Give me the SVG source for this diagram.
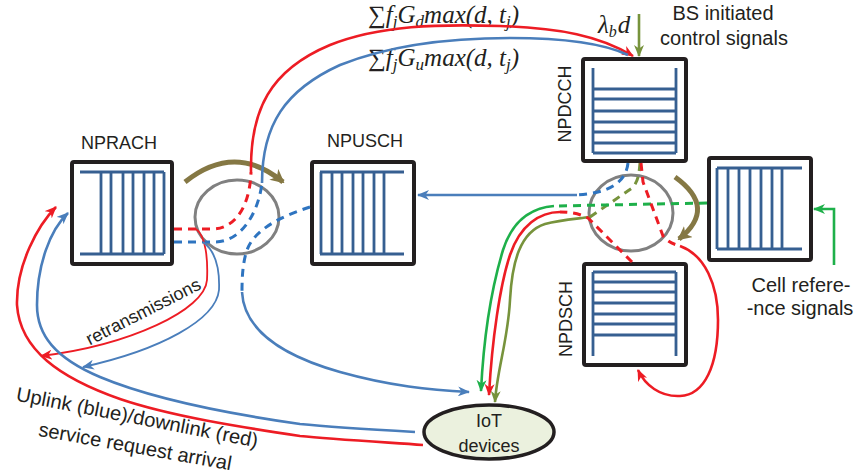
<svg xmlns="http://www.w3.org/2000/svg" width="857" height="475" viewBox="0 0 857 475">
<style>
.box{fill:#fff;stroke:#231f20;stroke-width:4}
.q{fill:none;stroke:#365f91;stroke-width:2.8}
.sw{fill:none;stroke:#808080;stroke-width:3}
.lbl{font-family:"Liberation Sans",Arial,sans-serif;font-size:18px;fill:#231f20}
.big{font-size:20px}
.math{font-family:"Liberation Serif","Times New Roman",serif;font-style:italic;font-size:25px;fill:#231f20}
.c{fill:none;stroke-width:2.6}
.t{fill:none;stroke-width:1.8}
.d{fill:none;stroke-width:3;stroke-dasharray:8 6}
.r{stroke:#ed1c24}.b{stroke:#4a7ebb}.bd{stroke:#2e74c0}.g{stroke:#1eb04a}.o{stroke:#77933c}.br{stroke:#857844}
</style>
<defs>
<marker id="ar" markerUnits="userSpaceOnUse" markerWidth="12" markerHeight="10" refX="11" refY="5" orient="auto" viewBox="0 0 12 10"><path d="M0,0 L12,5 L0,10 L3.5,5 z" fill="#ed1c24"/></marker>
<marker id="ab" markerUnits="userSpaceOnUse" markerWidth="12" markerHeight="10" refX="11" refY="5" orient="auto" viewBox="0 0 12 10"><path d="M0,0 L12,5 L0,10 L3.5,5 z" fill="#4a7ebb"/></marker>
<marker id="ag" markerUnits="userSpaceOnUse" markerWidth="12" markerHeight="10" refX="11" refY="5" orient="auto" viewBox="0 0 12 10"><path d="M0,0 L12,5 L0,10 L3.5,5 z" fill="#1eb04a"/></marker>
<marker id="ao" markerUnits="userSpaceOnUse" markerWidth="12" markerHeight="10" refX="11" refY="5" orient="auto" viewBox="0 0 12 10"><path d="M0,0 L12,5 L0,10 L3.5,5 z" fill="#77933c"/></marker>
<marker id="abr" markerUnits="userSpaceOnUse" markerWidth="14" markerHeight="14" refX="12" refY="7" orient="auto" viewBox="0 0 14 14"><path d="M0,0 L14,7 L0,14 L4,7 z" fill="#857844"/></marker>
</defs>
<rect width="857" height="475" fill="#fff"/>

<g id="nprach">
<text class="lbl" x="119" y="149" text-anchor="middle">NPRACH</text>
<rect class="box" x="72" y="162" width="100" height="102" rx="2"/>
<path class="q" d="M80,172H164M80,254H164M101,172V254M111,172V254M123,172V254M133,172V254M144,172V254M154,172V254M164,172V254"/>
</g>

<g id="npusch">
<text class="lbl" x="365" y="147" text-anchor="middle">NPUSCH</text>
<rect class="box" x="312" y="162" width="102" height="102" rx="2"/>
<path class="q" d="M320,172H404M320,254H404M321,172V254M332,172V254M342,172V254M353,172V254M363,172V254M374,172V254M384,172V254"/>
</g>

<g id="npdcch">
<text class="lbl" transform="translate(571,104) rotate(-90)" text-anchor="middle">NPDCCH</text>
<rect class="box" x="583" y="59" width="103" height="102" rx="2"/>
<path class="q" d="M593,68V153M676,68V153M593,89H676M593,99H676M593,111H676M593,122H676M593,132H676M593,143H676M593,153H676"/>
</g>

<g id="npdsch">
<text class="lbl" transform="translate(572,319) rotate(-90)" text-anchor="middle">NPDSCH</text>
<rect class="box" x="584" y="264" width="102" height="101" rx="2"/>
<path class="q" d="M593,272V356M676,272V356M593,272H676M593,282H676M593,292H676M593,303H676M593,314H676M593,324H676M593,335H676"/>
</g>

<g id="cell-ref-queue">
<rect class="box" x="709" y="158" width="102" height="102" rx="2"/>
<path class="q" d="M717,168H802M717,249H802M717,168V249M728,168V249M739,168V249M750,168V249M761,168V249M772,168V249M782,168V249"/>
</g>

<g id="switch-left">
<ellipse class="sw" cx="237" cy="217" rx="42" ry="37"/>
</g>

<g id="switch-right">
<ellipse class="sw" cx="631" cy="213" rx="42" ry="38"/>
</g>

<g id="iot">
<ellipse cx="489" cy="432" rx="65" ry="27" fill="#ebf1de" stroke="#231f20" stroke-width="3.5"/>
<text class="lbl" font-size="19" x="489" y="427" text-anchor="middle">IoT</text>
<text class="lbl" font-size="19" x="489" y="452" text-anchor="middle">devices</text>
</g>

<g id="labels">
<text class="math" x="368" y="23"><tspan font-style="normal">∑</tspan>f<tspan font-size="17" dy="4">j</tspan><tspan dy="-4">G</tspan><tspan font-size="17" dy="4">d</tspan><tspan dy="-4">max(d, t</tspan><tspan font-size="17" dy="4">j</tspan><tspan dy="-4">)</tspan></text>
<text class="math" x="368" y="66"><tspan font-style="normal">∑</tspan>f<tspan font-size="17" dy="4">j</tspan><tspan dy="-4">G</tspan><tspan font-size="17" dy="4">u</tspan><tspan dy="-4">max(d, t</tspan><tspan font-size="17" dy="4">j</tspan><tspan dy="-4">)</tspan></text>
<text class="math" x="598" y="33" font-size="23">λ<tspan font-size="16" dy="4">b</tspan><tspan dy="-4" dx="1">d</tspan></text>
<text class="lbl big" x="723" y="20" text-anchor="middle">BS initiated</text>
<text class="lbl big" x="724" y="45" text-anchor="middle">control signals</text>
<text class="lbl big" x="801" y="292" text-anchor="middle">Cell refere-</text>
<text class="lbl big" x="800" y="315" text-anchor="middle">-nce signals</text>
<text class="lbl" font-size="16" transform="translate(146,317) rotate(-27)" text-anchor="middle">retransmissions</text>
<text class="lbl big" transform="translate(136,424) rotate(11)" text-anchor="middle" textLength="246" lengthAdjust="spacingAndGlyphs">Uplink (blue)/downlink (red)</text>
<text class="lbl big" transform="translate(134,453) rotate(10.2)" text-anchor="middle">service request arrival</text>
</g>

<g id="connectors">
<!-- rotation arrows -->
<path class="br" fill="none" stroke-width="5" d="M185,182 Q235,142 283,182" marker-end="url(#abr)"/>
<path class="br" fill="none" stroke-width="5" d="M675,177 Q718,208 679,239" marker-end="url(#abr)"/>
<!-- NPRACH -> NPDCCH (red) -->
<path class="d r" d="M174,229 L212,229 C236,229 250,205 251,172"/>
<path class="c r" d="M251,172 C250,110 270,70 330,45 C380,25 440,24 500,26 C560,28 600,36 633,56" marker-end="url(#ar)"/>
<!-- NPRACH -> NPDCCH (blue) -->
<path class="d bd" d="M174,242 L215,242 C240,242 258,215 262,183"/>
<path class="c b" d="M262,183 C262,125 285,90 340,65 C390,45 450,38 510,38 C570,38 605,44 628,55"/>
<!-- NPUSCH -> IoT (blue) -->
<path class="d bd" d="M310,207 C285,215 255,228 247,250 C243,262 242,275 242,292"/>
<path class="c b" d="M242,292 C244,330 280,355 340,372 C390,386 430,390 469,392" marker-end="url(#ab)"/>
<!-- retransmissions -->
<path class="t r" d="M196,229 C206,236 208,260 207,280 C205,310 130,345 41,356" marker-end="url(#ar)"/>
<path class="t b" d="M203,242 C214,250 220,265 219,290 C216,320 160,350 83,367" marker-end="url(#ab)"/>
<!-- service request arrival -->
<path class="c r" d="M423,445 C380,442 330,439 300,436 C240,427 170,416 120,399 C60,378 20,350 17,305 C16,265 38,225 56,207" marker-end="url(#ar)"/>
<path class="c b" d="M415,432 C380,430 330,427 300,424 C230,414 150,398 100,377 C55,358 37,335 37,305 C37,265 50,230 68,213" marker-end="url(#ab)"/>
<!-- NPDCCH -> NPUSCH (blue) -->
<path class="d bd" d="M628,163 C626,182 610,193 577,195"/>
<path class="c b" d="M577,195 L418,195" marker-end="url(#ab)"/>
<!-- NPDCCH -> IoT (olive) -->
<path class="d o" d="M640,163 C639,175 638,182 632,188 L590,217"/>
<path class="c o" d="M590,217 C575,219 560,220 545,224 C520,232 512,262 510,300 C508,340 497,370 495,402" marker-end="url(#ao)"/>
<!-- NPDSCH -> IoT (red) -->
<path class="d r" d="M632,262 L588,218 C578,213 570,212 560,212"/>
<path class="c r" d="M560,212 C540,212 520,225 510,255 C500,285 492,340 489,395" marker-end="url(#ar)"/>
<!-- Cell reference -> IoT (green) -->
<path class="d g" d="M707,203 L554,206"/>
<path class="c g" d="M554,206 C530,208 512,222 503,250 C494,280 484,330 481,391" marker-end="url(#ag)"/>
<!-- NPDCCH -> NPDSCH loop (red) -->
<path class="d r" d="M641,163 L643,182 L663,236 C668,242 673,244 680,246"/>
<path class="c r" d="M680,246 C705,255 718,285 718,320 C718,365 705,395 680,396 C660,397 645,385 638,370" marker-end="url(#ar)"/>
<!-- BS initiated control signals -->
<path class="c o" d="M639,14 L639,56" marker-end="url(#ao)"/>
<!-- Cell reference signals -->
<path class="c g" d="M834,265 L834,209 L814,209" marker-end="url(#ag)"/>
</g>
</svg>
